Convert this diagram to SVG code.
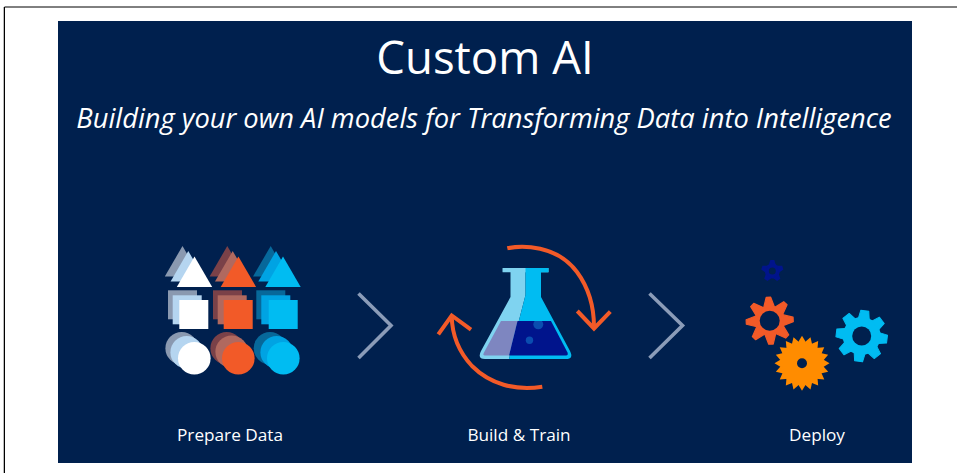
<svg xmlns="http://www.w3.org/2000/svg" width="957" height="473" viewBox="0 0 957 473">
<style>
.t{font-family:"Open Sans","Noto Sans","Liberation Sans",sans-serif;fill:#fff;text-anchor:middle}
.lbl{font-size:17.2px}
.chev{fill:none;stroke:#8b9cb8;stroke-width:3.6}
.arc{fill:none;stroke:#f25a28;stroke-width:4;stroke-linejoin:miter}
.w3{fill:#fff}.w2{fill:#b5d5f0}.w1{fill:#8a99b0}
.o3{fill:#f25a28}.o2{fill:#b0695f}.o1{fill:#7a4148}
.b3{fill:#00bcf2}.b2{fill:#00a3e3}.b1{fill:#07689a}
</style>
<defs>
<path id="tri" d="M0 0L17.700 30.500H-17.700Z"/>
<rect id="sq" width="29" height="29"/>
<circle id="ci" r="16.300"/>
<path id="tOr" d="M-5.500 -13L-2.500 -23.500H2L5.500 -13Z" fill="#f25a28" stroke="#f25a28" stroke-width="1.200" stroke-linejoin="round"/>
<path id="tAm" d="M-4.500 -20L0 -27.500L4.500 -20Z" fill="#ff8c00"/>
<path id="tBl" d="M-5.500 -17L-4 -25.500H4L5.500 -17Z" fill="#00bcf2" stroke="#00bcf2" stroke-width="1" stroke-linejoin="round"/>
<path id="tSt" d="M-3.500 -6L-2 -11H2L3.500 -6Z" fill="#00148c"/>
</defs>
<rect width="957" height="473" fill="#fff"/>
<path d="M4.500 473V7H957" fill="none" stroke="#000" stroke-width="1"/>
<path d="M3.500 7V473" fill="none" stroke="#bbb" stroke-width="1"/>
<rect x="58" y="21" width="854" height="442" fill="#00204e"/>
<g id="title">
<text class="t" x="485" y="74" font-size="45.500">Custom AI</text>
<text class="t" x="484" y="128" font-size="27.300" font-style="italic">Building your own AI models for Transforming Data into Intelligence</text>
</g>
<g id="prepare-data">
<use href="#tri" class="w1" x="182.500" y="246"/><use href="#tri" class="w2" x="188.300" y="251"/><use href="#tri" class="w3" x="194.500" y="256.500"/>
<use href="#tri" class="o1" x="227.300" y="246"/><use href="#tri" class="o2" x="232.700" y="251"/><use href="#tri" class="o3" x="238.400" y="256.500"/>
<use href="#tri" class="b1" x="270.700" y="246"/><use href="#tri" class="b2" x="276" y="251"/><use href="#tri" class="b3" x="283" y="256.500"/>
<use href="#sq" class="w1" x="168" y="290.300"/><use href="#sq" class="w2" x="172.700" y="295.300"/><use href="#sq" class="w3" x="179.300" y="300"/>
<use href="#sq" class="o1" x="213" y="290.300"/><use href="#sq" class="o2" x="217.700" y="295.300"/><use href="#sq" class="o3" x="223.700" y="300"/>
<use href="#sq" class="b1" x="256.300" y="290.300"/><use href="#sq" class="b2" x="261.300" y="295.300"/><use href="#sq" class="b3" x="268.700" y="300"/>
<use href="#ci" class="w1" x="181.700" y="348.300"/><use href="#ci" class="w2" x="186.700" y="352.300"/><use href="#ci" class="w3" x="194.300" y="358.300"/>
<use href="#ci" class="o1" x="226.700" y="348.300"/><use href="#ci" class="o2" x="231.700" y="351.700"/><use href="#ci" class="o3" x="238.300" y="358.300"/>
<use href="#ci" class="b1" x="270" y="348.300"/><use href="#ci" class="b2" x="276.700" y="352.300"/><use href="#ci" class="b3" x="283.300" y="358.300"/>
<text class="t lbl" x="230" y="440.500">Prepare Data</text>
</g>
<g id="build-train">
<rect x="502.500" y="268" width="46" height="4.300" rx="0.500" fill="#7fd3f0"/>
<rect x="525.500" y="268" width="23" height="4.300" fill="#00bcf2"/>
<path d="M510.500 272H525.500V295L509 359H485Q477 359 481 351L510.500 297Z" fill="#7fd3f0"/>
<path d="M525.500 272H541V297L570 351Q574 359 566 359H509L525.500 295Z" fill="#00bcf2"/>
<path d="M501 321H517.500L509 355.500H485Q482.500 355.500 484 352.500Z" fill="#7e86c0"/>
<path d="M517.500 321H551L567.500 352.500Q568.500 355.500 566 355.500H509Z" fill="#00148c"/>
<path d="M534.600 321A5 5 0 1 0 542 321Z" fill="#0a4db0"/>
<circle cx="529.500" cy="340.300" r="3.700" fill="#0a4db0"/>
<path class="arc" d="M507.300 248.300C522 245 557 245 577 272C591 291 594 312 594 327"/>
<path class="arc" d="M577.300 311L594 328.500L610.300 311.700"/>
<path class="arc" d="M542.300 386.700C515 391 490 384 472 366C457 350 452 332 451.700 316"/>
<path class="arc" d="M438.300 334.300L451.700 315.500L471 329.700"/>
<text class="t lbl" x="519" y="440.500">Build &amp; Train</text>
</g>
<g id="deploy">
<g id="gear-star" transform="translate(772.300 271)">
<circle r="7.500" fill="#00148c"/>
<use href="#tSt"/><use href="#tSt" transform="rotate(72)"/><use href="#tSt" transform="rotate(144)"/><use href="#tSt" transform="rotate(216)"/><use href="#tSt" transform="rotate(288)"/>
<circle r="3.500" fill="#00204e"/>
</g>
<g id="gear-orange" transform="translate(769.700 320.700)">
<circle r="15" fill="#f25a28"/>
<use href="#tOr" transform="rotate(-2.500)"/><use href="#tOr" transform="rotate(42.500)"/><use href="#tOr" transform="rotate(87.500)"/><use href="#tOr" transform="rotate(132.500)"/><use href="#tOr" transform="rotate(177.500)"/><use href="#tOr" transform="rotate(222.500)"/><use href="#tOr" transform="rotate(267.500)"/><use href="#tOr" transform="rotate(312.500)"/>
<circle r="10" fill="#00204e"/>
</g>
<g id="gear-amber" transform="translate(802 363.300)">
<circle r="21.500" fill="#ff8c00"/>
<use href="#tAm"/><use href="#tAm" transform="rotate(18)"/><use href="#tAm" transform="rotate(36)"/><use href="#tAm" transform="rotate(54)"/><use href="#tAm" transform="rotate(72)"/><use href="#tAm" transform="rotate(90)"/><use href="#tAm" transform="rotate(108)"/><use href="#tAm" transform="rotate(126)"/><use href="#tAm" transform="rotate(144)"/><use href="#tAm" transform="rotate(162)"/><use href="#tAm" transform="rotate(180)"/><use href="#tAm" transform="rotate(198)"/><use href="#tAm" transform="rotate(216)"/><use href="#tAm" transform="rotate(234)"/><use href="#tAm" transform="rotate(252)"/><use href="#tAm" transform="rotate(270)"/><use href="#tAm" transform="rotate(288)"/><use href="#tAm" transform="rotate(306)"/><use href="#tAm" transform="rotate(324)"/><use href="#tAm" transform="rotate(342)"/>
<circle r="5" fill="#00204e"/>
</g>
<g id="gear-blue" transform="translate(861.700 336)">
<circle r="19" fill="#00bcf2"/>
<use href="#tBl" transform="rotate(7)"/><use href="#tBl" transform="rotate(52)"/><use href="#tBl" transform="rotate(97)"/><use href="#tBl" transform="rotate(142)"/><use href="#tBl" transform="rotate(187)"/><use href="#tBl" transform="rotate(232)"/><use href="#tBl" transform="rotate(277)"/><use href="#tBl" transform="rotate(322)"/>
<circle r="9.500" fill="#00204e"/>
</g>
<text class="t lbl" x="817" y="440.500">Deploy</text>
</g>
<g id="connectors">
<path class="chev" d="M358.500 293.500L391 325.500L358.500 358"/>
<path class="chev" d="M649.500 293.500L682.500 325.500L649.500 358"/>
</g>
</svg>
